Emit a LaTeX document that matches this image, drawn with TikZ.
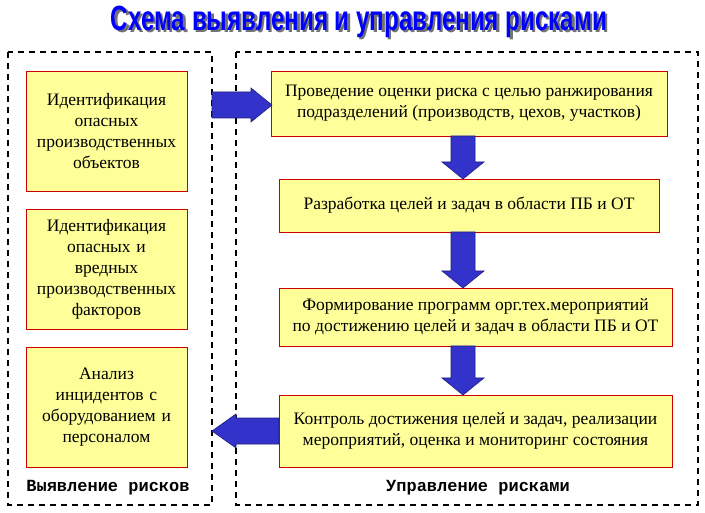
\documentclass[tikz,border=0pt]{standalone}
\usepackage{fontspec}
\setmainfont{Liberation Serif}
\newfontfamily\titlefont{Liberation Sans}
\setmonofont{Liberation Mono}
\usetikzlibrary{calc}
\definecolor{boxfill}{RGB}{255,255,153}
\definecolor{arrblue}{RGB}{51,51,204}
\tikzset{
  riskbox/.style={draw=red!80!black, fill=boxfill, align=center, inner sep=2pt,
    font=\fontsize{17.5}{21}\selectfont},
  zone/.style={draw, dashed, line width=1.2pt, dash pattern=on 6pt off 5pt},
  blockarrow/.style={fill=arrblue, draw=arrblue!60!black, line width=0.6pt}
}
\begin{document}
\begin{tikzpicture}[x=1pt,y=-1pt]
    \useasboundingbox (0,0) rectangle (705,513);
    \node[text=black!55, font=\titlefont\bfseries\fontsize{35}{35}\selectfont, xscale=0.69] (shadow) at (361.5,24) {Схема выявления и управления рисками};
    \node[text=blue, font=\titlefont\bfseries\fontsize{35}{35}\selectfont, xscale=0.69] (title) at (359,21.5) {Схема выявления и управления рисками};

    \draw[zone] (8,52) rectangle (212,505);
    \draw[zone] (236,52) rectangle (698,505);

    % left column
    \node[riskbox, minimum width=161pt, minimum height=120pt, text width=155pt] (hazobj) at (106.5,131) {Идентификация\\ опасных\\ производственных\\ объектов};
    \node[riskbox, minimum width=161pt, minimum height=120pt, text width=155pt] (hazfac) at (106.5,269) {Идентификация\\ опасных и\\ вредных\\ производственных\\ факторов};
    \node[riskbox, minimum width=161pt, minimum height=120pt, text width=155pt] (incid) at (106.5,407) {Анализ\\ инцидентов с\\ оборудованием и\\ персоналом};

    % right column
    \node[riskbox, minimum width=396pt, minimum height=65pt] (assess) at (469,103.5) {Проведение оценки риска с целью ранжирования\\ подразделений (производств, цехов, участков)};
    \node[riskbox, minimum width=380pt, minimum height=53pt] (goals) at (469,205.5) {Разработка целей и задач в области ПБ и ОТ};
    \node[riskbox, minimum width=393pt, minimum height=58pt] (program) at (475.5,317) {Формирование программ орг.тех.мероприятий\\ по достижению целей и задач в области ПБ и ОТ};
    \node[riskbox, minimum width=393pt, minimum height=72pt] (control) at (475.5,431) {Контроль достижения целей и задач, реализации\\ мероприятий, оценка и мониторинг состояния};

    \node[font=\ttfamily\bfseries\fontsize{17}{17}\selectfont] (lblleft) at (108,488) {Выявление рисков};
    \node[font=\ttfamily\bfseries\fontsize{17}{17}\selectfont] (lblright) at (478,488) {Управление рисками};

    % block arrows
    \draw[blockarrow] (212,92) -- (251,92) -- (251,88) -- (272,105) -- (251,122) -- (251,118) -- (212,118) -- cycle;
    \draw[blockarrow] (279,418) -- (236,418) -- (236,414) -- (212,431) -- (236,448) -- (236,444) -- (279,444) -- cycle;
    \foreach \ya/\yb in {136/179, 232/288, 346/395}
      \draw[blockarrow] (451,\ya) -- (451,\yb-17) -- (442,\yb-17) -- (463,\yb) -- (484,\yb-17) -- (475,\yb-17) -- (475,\ya) -- cycle;
\end{tikzpicture}
\end{document}
